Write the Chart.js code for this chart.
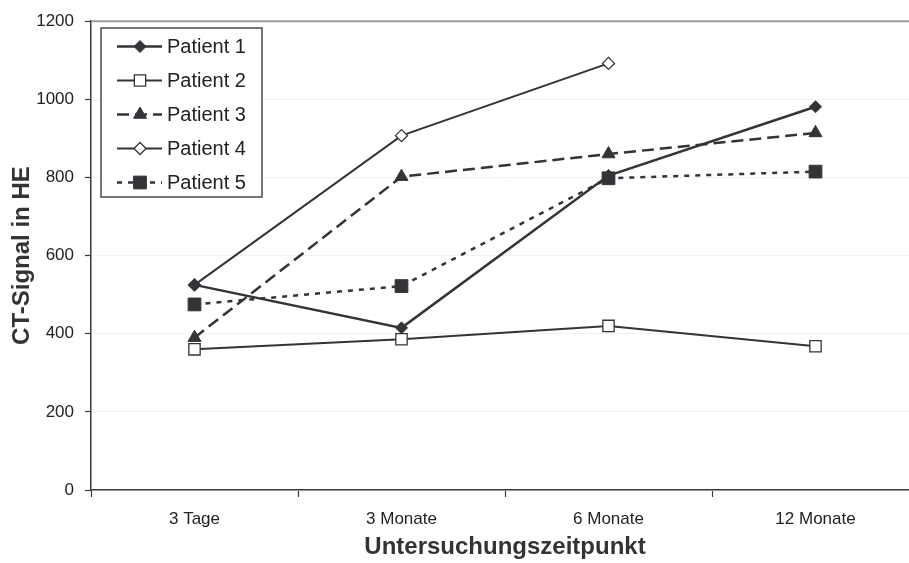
<!DOCTYPE html>
<html>
<head>
<meta charset="utf-8">
<script src="https://cdn.jsdelivr.net/npm/chart.js@4.4.1/dist/chart.umd.min.js"></script>
<style>
  html, body { margin: 0; padding: 0; background: #fff; overflow: hidden; }
  #wrap { position: relative; width: 919px; height: 563px; }
</style>
</head>
<body>
<div id="wrap"><canvas id="c"></canvas></div>
<script>
// Examination time points
const categories = ['3 Tage', '3 Monate', '6 Monate', '12 Monate'];

// CT signal (HU) per patient
const patient1 = [525, 415, 805, 981];
const patient2 = [360, 386, 420, 368];
const patient3 = [390, 802, 860, 914];
const patient4 = [525, 907, 1092, null];
const patient5 = [475, 522, 798, 815];

const seriesNames = ['Patient 1', 'Patient 2', 'Patient 3', 'Patient 4', 'Patient 5'];
const yTicks = [0, 200, 400, 600, 800, 1000, 1200];

const INK = '#333338';
const FONT = "'Liberation Sans', Arial, sans-serif";

const datasets = [
  { label: seriesNames[0], data: patient1, borderColor: INK, borderWidth: 2.5,
    pointStyle: 'rectRot', pointRadius: 6, pointBackgroundColor: INK, pointBorderColor: INK, pointBorderWidth: 1 },
  { label: seriesNames[1], data: patient2, borderColor: INK, borderWidth: 2,
    pointStyle: 'rect', pointRadius: 8, pointBackgroundColor: '#ffffff', pointBorderColor: INK, pointBorderWidth: 1.3 },
  { label: seriesNames[2], data: patient3, borderColor: INK, borderWidth: 2.5, borderDash: [12, 6],
    pointStyle: 'triangle', pointRadius: 7.5, pointBackgroundColor: INK, pointBorderColor: INK, pointBorderWidth: 1 },
  { label: seriesNames[3], data: patient4, borderColor: INK, borderWidth: 2,
    pointStyle: 'rectRot', pointRadius: 6, pointBackgroundColor: '#ffffff', pointBorderColor: INK, pointBorderWidth: 1.3 },
  { label: seriesNames[4], data: patient5, borderColor: INK, borderWidth: 2.5, borderDash: [5, 6],
    pointStyle: 'rect', pointRadius: 9, pointBackgroundColor: INK, pointBorderColor: INK, pointBorderWidth: 1 }
].map(d => Object.assign({ fill: false, tension: 0, spanGaps: false, pointHoverRadius: d.pointRadius }, d));

// Top border of the plot area
const frame = {
  id: 'frame',
  beforeDatasetsDraw(chart) {
    const { ctx, chartArea: a } = chart;
    ctx.save();
    ctx.strokeStyle = '#9c9c9c';
    ctx.lineWidth = 2;
    ctx.beginPath();
    ctx.moveTo(a.left, a.top);
    ctx.lineTo(a.right, a.top);
    ctx.stroke();
    ctx.restore();
  }
};

// Boxed legend inside the plot, upper left
const boxLegend = {
  id: 'boxLegend',
  afterDatasetsDraw(chart) {
    const { ctx } = chart;
    const x0 = 101, y0 = 28, w = 161, h = 169;
    ctx.save();
    ctx.fillStyle = '#ffffff';
    ctx.fillRect(x0, y0, w, h);
    ctx.strokeStyle = '#4a4a4a';
    ctx.lineWidth = 1.5;
    ctx.strokeRect(x0, y0, w, h);
    chart.data.datasets.forEach((ds, i) => {
      const y = 46.5 + i * 34;
      ctx.strokeStyle = ds.borderColor;
      ctx.lineWidth = ds.borderWidth;
      ctx.setLineDash(ds.borderDash || []);
      ctx.beginPath();
      ctx.moveTo(117, y);
      ctx.lineTo(162, y);
      ctx.stroke();
      ctx.setLineDash([]);
      ctx.fillStyle = ds.pointBackgroundColor;
      ctx.strokeStyle = ds.pointBorderColor;
      ctx.lineWidth = ds.pointBorderWidth;
      Chart.helpers.drawPoint(ctx, { pointStyle: ds.pointStyle, radius: ds.pointRadius, borderWidth: ds.pointBorderWidth }, 140, y);
      ctx.fillStyle = '#222';
      ctx.font = '20px ' + FONT;
      ctx.textBaseline = 'middle';
      ctx.textAlign = 'left';
      ctx.fillText(ds.label, 167, y + 1);
    });
    ctx.restore();
  }
};

new Chart(document.getElementById('c'), {
  type: 'line',
  data: { labels: categories, datasets },
  plugins: [frame, boxLegend],
  options: {
    responsive: true,
    maintainAspectRatio: false,
    animation: false,
    layout: { padding: { top: 20, left: 0, right: 0, bottom: 0 }, autoPadding: false },
    plugins: { legend: { display: false }, tooltip: { enabled: false } },
    scales: {
      x: {
        type: 'category',
        offset: true,
        grid: { offset: true, drawOnChartArea: false, drawTicks: true, tickLength: 7, tickColor: '#3a3a3a', tickWidth: 1.2 },
        border: { display: true, color: '#3a3a3a', width: 1.5 },
        ticks: { color: '#222', font: { family: FONT, size: 17 }, padding: 12, maxRotation: 0 },
        title: { display: true, text: 'Untersuchungszeitpunkt', color: '#333',
                 font: { family: FONT, size: 24, weight: 'bold' }, padding: { top: 0, bottom: 1 } },
        afterFit(s) { s.height = 73; }
      },
      y: {
        min: 0, max: 1200,
        afterBuildTicks(s) { s.ticks = yTicks.map(v => ({ value: v })); },
        grid: { color: '#f1f1f1', lineWidth: 1, drawTicks: true, tickLength: 6, tickColor: '#3a3a3a', tickWidth: 1.2 },
        border: { display: true, color: '#3a3a3a', width: 1.5 },
        ticks: { color: '#222', font: { family: FONT, size: 17 }, padding: 11, callback: v => String(v) },
        title: { display: true, text: 'CT-Signal in HE', color: '#333',
                 font: { family: FONT, size: 24, weight: 'bold' }, padding: { top: 8, bottom: 0 } },
        afterFit(s) { s.width = 91; }
      }
    }
  }
});
</script>
</body>
</html>
